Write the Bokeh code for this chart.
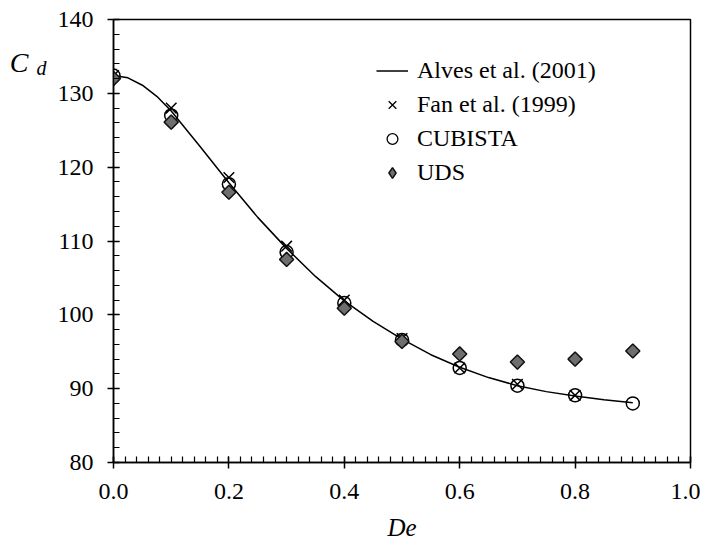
from bokeh.plotting import figure
from bokeh.models import (Range1d, Legend, LegendItem, FixedTicker, NumeralTickFormatter,
                          LinearAxis)
from bokeh.embed import file_html
from bokeh.resources import INLINE
import math

# --- data ---
de_alves = [0.0, 0.025, 0.05, 0.075, 0.1, 0.15, 0.2, 0.25, 0.3, 0.35, 0.4,
            0.45, 0.5, 0.55, 0.6, 0.65, 0.7, 0.75, 0.8, 0.85, 0.9]
cd_alves = [132.4, 132.1, 131.1, 129.6, 127.6, 122.8, 117.9, 113.2, 109.0, 105.2, 101.9,
            99.1, 96.7, 94.6, 92.9, 91.5, 90.4, 89.6, 89.0, 88.5, 88.1]

de_fan = [0.0, 0.1, 0.2, 0.3, 0.4, 0.5, 0.6, 0.7, 0.8]
cd_fan = [132.4, 128.0, 118.6, 109.3, 102.0, 96.8, 92.8, 90.6, 89.1]

de_cubista = [0.0, 0.1, 0.2, 0.3, 0.4, 0.5, 0.6, 0.7, 0.8, 0.9]
cd_cubista = [132.4, 127.0, 117.7, 108.5, 101.6, 96.6, 92.8, 90.4, 89.1, 88.0]

de_uds = [0.0, 0.1, 0.2, 0.3, 0.4, 0.5, 0.6, 0.7, 0.8, 0.9]
cd_uds = [132.0, 126.1, 116.6, 107.5, 100.9, 96.4, 94.7, 93.6, 94.0, 95.1]

x_ticks = [0.0, 0.2, 0.4, 0.6, 0.8, 1.0]
y_ticks = [80, 90, 100, 110, 120, 130, 140]
x_minor = [i / 50 for i in range(51)]
y_minor = list(range(80, 141, 2))

y_label_main = "C"      # y-axis label, main letter
y_label_sub = "d"       # y-axis label, subscript
y_label_at_main = 134.2  # height (in Cd units) where the label letters sit
y_label_at_sub = 133.4

FONT = "Liberation Serif"
NAN = float("nan")

p = figure(width=700, height=543, x_range=Range1d(0, 1.0), y_range=Range1d(80, 140),
           output_backend="svg", toolbar_location=None,
           min_border_left=113, min_border_right=10, min_border_top=19, min_border_bottom=80)
p.grid.grid_line_color = None
p.outline_line_color = "black"
p.outline_line_width = 1.5
p.outline_line_alpha = 1.0
p.background_fill_color = "white"
p.border_fill_color = "white"

p.xaxis.ticker = FixedTicker(ticks=x_ticks, minor_ticks=x_minor)
p.yaxis.ticker = FixedTicker(ticks=y_ticks, minor_ticks=y_minor)
p.xaxis.formatter = NumeralTickFormatter(format="0.0")
for ax in (p.xaxis, p.yaxis):
    ax.axis_line_color = "black"
    ax.axis_line_width = 1.5
    ax.major_tick_line_color = "black"
    ax.major_tick_line_width = 1.5
    ax.minor_tick_line_color = "black"
    ax.minor_tick_line_width = 1.2
    ax.major_tick_in = 6
    ax.major_tick_out = 6
    ax.minor_tick_in = 6
    ax.minor_tick_out = 0
    ax.major_label_text_font = FONT
    ax.major_label_text_font_size = "24px"
    ax.major_label_text_color = "black"
p.xaxis.major_label_standoff = 15
p.yaxis.major_label_standoff = 14
p.xaxis.axis_label = "De"
p.xaxis.axis_label_text_font = FONT
p.xaxis.axis_label_text_font_style = "italic"
p.xaxis.axis_label_text_font_size = "25px"
p.xaxis.axis_label_text_color = "black"
p.xaxis.axis_label_standoff = 12

# y-axis label "C d" drawn as two label-only axes stacked to the left
def label_axis(text, at, size, standoff):
    ax = LinearAxis(ticker=FixedTicker(ticks=[at], minor_ticks=[]),
                    major_label_overrides={at: text})
    ax.axis_line_color = None
    ax.major_tick_line_color = None
    ax.minor_tick_line_color = None
    ax.major_tick_in = 0
    ax.major_tick_out = 0
    ax.minor_tick_in = 0
    ax.minor_tick_out = 0
    ax.major_label_standoff = standoff
    ax.major_label_text_font = FONT
    ax.major_label_text_font_style = "italic"
    ax.major_label_text_font_size = size
    ax.major_label_text_color = "black"
    return ax

p.add_layout(label_axis(y_label_sub, y_label_at_sub, "20px", 8), "left")
p.add_layout(label_axis(y_label_main, y_label_at_main, "28px", 5), "left")

# data renderers
r_line = p.line(de_alves, cd_alves, line_color="black", line_width=1.5)
p.scatter(de_cubista, cd_cubista, marker="circle", size=13, fill_color=None,
          line_color="black", line_width=1.5)
p.scatter(de_fan, cd_fan, marker="x", size=15, line_color="black", line_width=1.5)
p.scatter(de_uds, cd_uds, marker="square", angle=math.pi / 4, size=10,
          fill_color="#6e6e6e", line_color="#111111", line_width=1.5)

# legend-only renderers (smaller symbols, as in the reference legend)
l_fan = p.scatter([NAN], [NAN], marker="x", line_color="black", line_width=1.3)
l_cub = p.scatter([NAN], [NAN], marker="circle", fill_color=None, line_color="black", line_width=1.3)
l_uds = p.scatter([NAN], [NAN], marker="diamond", fill_color="#6e6e6e",
                  line_color="#111111", line_width=1.5)

legend = Legend(items=[LegendItem(label="Alves et al. (2001)", renderers=[r_line]),
                       LegendItem(label="Fan et al. (1999)", renderers=[l_fan]),
                       LegendItem(label="CUBISTA", renderers=[l_cub]),
                       LegendItem(label="UDS", renderers=[l_uds])],
                location=(263, 275), border_line_color=None, background_fill_alpha=0,
                label_text_font=FONT, label_text_font_size="24px", label_text_color="black",
                spacing=4, padding=0, margin=0, glyph_width=32, glyph_height=27,
                label_height=30, label_standoff=9)
p.add_layout(legend)

open("out.html", "w").write(file_html(p, INLINE))
